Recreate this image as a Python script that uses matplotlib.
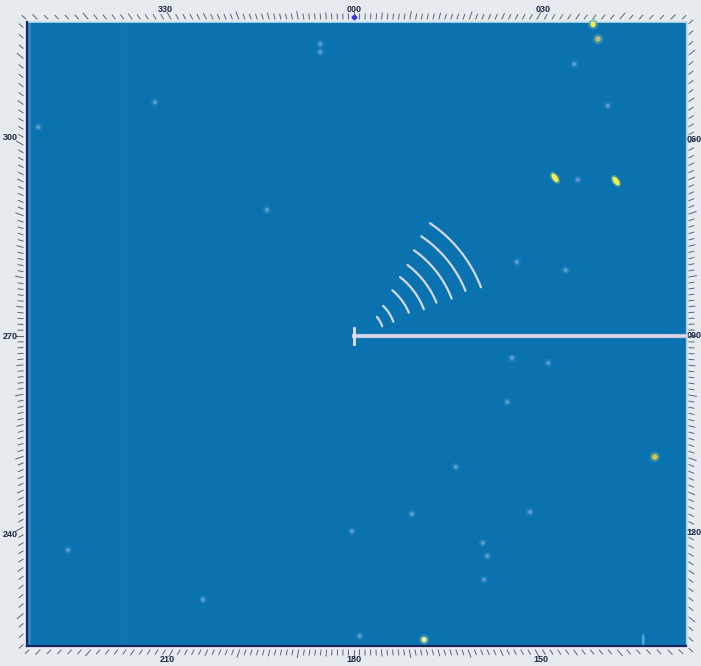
import numpy as np
import matplotlib
matplotlib.use('Agg')
import matplotlib.pyplot as plt
from matplotlib.patches import Rectangle, Ellipse

# ---------------- data ----------------
label_bearings = [0, 30, 60, 90, 120, 150, 180, 210, 240, 270, 300, 330]
bearing_labels = ['000', '030', '060', '090', '120', '150', '180', '210', '240', '270', '300', '330']

# faint echoes (bearing deg, range NM)
faint_brg = [353.4, 353.2, 39.0, 47.8, 319.6, 303.5, 55.1, 325.4, 72.7, 65.6,
             97.9, 97.9, 113.3, 142.1, 135.0, 162.0, 180.6, 148.1, 148.8, 233.2,
             151.9, 209.8, 178.9]
faint_rng = [5.62, 5.47, 6.69, 6.55, 5.87, 7.24, 5.22, 2.93, 4.24, 3.42,
             3.05, 3.75, 3.19, 3.17, 4.76, 3.58, 3.73, 4.66, 4.92, 6.83,
             5.28, 5.81, 5.74]

# bright point targets
bright_brg = [37.5, 39.4, 111.9, 167.0]
bright_rng = [7.51, 7.35, 6.20, 5.96]
bright_col = ['#f2ee4a', '#b8bc8c', '#e8c040', '#e8f8a0']

# elongated yellow targets
blob_brg = [51.8, 59.4]
blob_rng = [4.89, 5.82]

# sector wave arcs
arc_rng = [0.57, 0.80, 1.14, 1.43, 1.70, 2.00, 2.30, 2.60]
arc_start = [50, 44, 40, 38, 37, 35, 34, 34]
arc_end = [71, 70, 67, 69, 68, 69, 68, 69]

heading = 90

# ---------------- layout ----------------
W, H = 701, 666
S = 52.3            # pixels per NM
OX, OY = 354, 336   # ownship pixel position


def px(x):
    return (x - OX) / S


def py(y):
    return (OY - y) / S


def polar(brg, rng):
    b = np.radians(np.asarray(brg, float))
    r = np.asarray(rng, float)
    return r * np.sin(b), r * np.cos(b)


def ray_rect(brg, L, R, B, T):
    b = np.radians(brg)
    ux, uy = np.sin(b), np.cos(b)
    tx = R / ux if ux > 1e-9 else (L / ux if ux < -1e-9 else np.inf)
    ty = T / uy if uy > 1e-9 else (B / uy if uy < -1e-9 else np.inf)
    t = min(tx, ty)
    return t * ux, t * uy, ux, uy


fig = plt.figure(figsize=(W / 100, H / 100), dpi=100)
fig.patch.set_facecolor('#e6ebf0')
ax = fig.add_axes([0, 0, 1, 1])
ax.set_xlim(px(0), px(W))
ax.set_ylim(py(H), py(0))
ax.axis('off')

# scope
sl, sr, sb, st = px(27), px(686), py(646), py(22)
ax.add_patch(Rectangle((sl, sb), sr - sl, st - sb, facecolor='#0b72b0', edgecolor='none', zorder=1))
ax.add_patch(Rectangle((sl, sb), px(31) - sl, st - sb, facecolor='#2f86c0', edgecolor='none', zorder=1.1))
ax.add_patch(Rectangle((px(120), sb), px(128) - px(120), st - sb, facecolor='#1076b2', edgecolor='none', zorder=1.1))
ax.plot([sl, sr], [st, st], color='#bfe0f0', lw=1.2, zorder=2)
ax.plot([sr, sr], [sb, st], color='#9cc8e4', lw=1.0, zorder=2)
ax.plot([sl, sl], [sb, st], color='#13245e', lw=1.6, zorder=2)
ax.plot([sl, sr], [sb, sb], color='#13245e', lw=1.6, zorder=2)

# bearing ticks
tl, tr, tb, tt = px(23), px(689), py(650), py(19)
for b in np.arange(0, 360, 1.0):
    x0, y0, ux, uy = ray_rect(b, tl, tr, tb, tt)
    ln = 7.5 if b % 10 == 0 else (6 if b % 5 == 0 else 5)
    ln /= S
    ax.plot([x0, x0 + ux * ln], [y0, y0 + uy * ln], color='#5e6272', lw=0.7, zorder=3)

# north marker
nx, ny, _, _ = ray_rect(0, tl, tr, tb, tt)
ax.plot([nx], [ny + 2 / S], marker='D', ms=2.5, color='#3a30e0', zorder=4)

# bearing labels
ll, lr, lb, lt = px(10), px(694), py(660), py(9)
for b, lab in zip(label_bearings, bearing_labels):
    x0, y0, _, _ = ray_rect(b, ll, lr, lb, lt)
    ax.text(x0, y0, lab, ha='center', va='center', fontsize=6.5, fontweight='bold',
            family='Liberation Sans', color='#1e2848', zorder=5)

# faint echoes
fx, fy = polar(faint_brg, faint_rng)
ax.scatter(fx, fy, s=34, color='#2a84c0', alpha=0.6, edgecolors='none', zorder=4)
ax.scatter(fx, fy, s=8, color='#5e9ecc', edgecolors='none', zorder=5)

# bright targets
bx, by = polar(bright_brg, bright_rng)
ax.scatter(bx, by, s=55, color='#5aa8a0', alpha=0.55, edgecolors='none', zorder=4)
ax.scatter(bx, by, s=16, color=bright_col, edgecolors='none', zorder=5)

# elongated targets
ex, ey = polar(blob_brg, blob_rng)
for x, y in zip(ex, ey):
    ax.add_patch(Ellipse((x, y), 14 / S, 8 / S, angle=-55, facecolor='#6cb090', alpha=0.6,
                         edgecolor='none', zorder=4))
    ax.add_patch(Ellipse((x, y), 10 / S, 5 / S, angle=-55, facecolor='#f4f050',
                         edgecolor='none', zorder=5))

# cyan streak near bottom
ax.add_patch(Ellipse(polar(136.4, 8.02), 3 / S, 12 / S, facecolor='#60c0e0', alpha=0.7,
                     edgecolor='none', zorder=4))

# wave arcs
for r, a0, a1 in zip(arc_rng, arc_start, arc_end):
    ax_, ay_ = polar(np.linspace(a0, a1, 60), np.full(60, r))
    ax.plot(ax_, ay_, color='#d4d8e6', lw=1.6, solid_capstyle='round', zorder=6)

# heading line
hx, hy, ux, uy = ray_rect(heading, sl, sr, sb, st)
ax.plot([0, hx], [0, hy], color='#c4c4dc', lw=3.0, zorder=6)
ax.plot([0, hx], [0, hy], color='#dcdcec', lw=1.2, zorder=6)
ax.plot([0, 0], [-8 / S, 8 / S], color='#e0e0ee', lw=2.0, zorder=7)

fig.savefig('out.png', dpi=100, facecolor=fig.get_facecolor())
